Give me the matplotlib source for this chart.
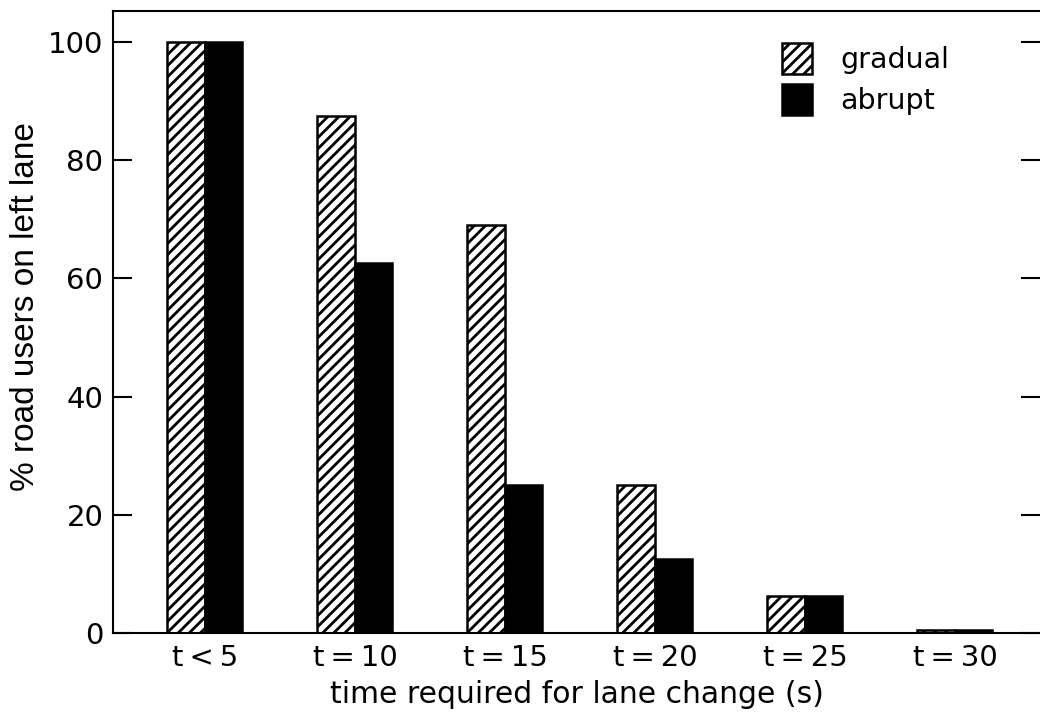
import numpy as np
import matplotlib
matplotlib.use("Agg")
import matplotlib.pyplot as plt

categories = ["t\u2009<\u20095", "t\u2009=\u200910", "t\u2009=\u200915",
              "t\u2009=\u200920", "t\u2009=\u200925", "t\u2009=\u200930"]
gradual = [100, 87.5, 69, 25, 6.25, 0.5]
abrupt = [100, 62.5, 25, 12.5, 6.25, 0.5]
yticks = [0, 20, 40, 60, 80, 100]

plt.rcParams['font.family'] = ['DejaVu Sans']
plt.rcParams['hatch.linewidth'] = 2.0

fig = plt.figure(figsize=(10.4, 7.2), dpi=100)
ax = fig.add_axes([0.1087, 0.1208, 0.8913, 0.8639])

x = np.arange(len(categories))
w = 0.25
ax.bar(x - w / 2, gradual, w, color="white", edgecolor="black", hatch="///",
       linewidth=1.8, label="gradual")
ax.bar(x + w / 2, abrupt, w, color="black", edgecolor="black",
       linewidth=1.8, label="abrupt")

ax.set_xlim(-0.613, 5.567)
ax.set_ylim(0, 105.2)
ax.set_xticks(x)
ax.set_xticklabels(categories, fontsize=21)
ax.set_yticks(yticks)
ax.set_yticklabels([str(v) for v in yticks], fontsize=21)
ax.tick_params(axis="x", length=0, pad=8)
ax.tick_params(axis="y", direction="in", length=14, width=1.5, right=True, pad=7)
ax.spines["right"].set_visible(False)
for s in ["left", "bottom", "top"]:
    ax.spines[s].set_linewidth(1.5)

ax.set_xlabel("time required for lane change (s)", fontsize=21.5, labelpad=6)
ax.set_ylabel("% road users on left lane", fontsize=24, family="Liberation Sans")
ax.yaxis.set_label_coords(-0.078, 0.525)

ax.legend(loc="upper right", bbox_to_anchor=(0.93, 0.99), frameon=False,
          fontsize=20.5, handlelength=1.05, handleheight=1.3, labelspacing=0.35,
          handletextpad=1.0)

fig.savefig("out.png", dpi=100)
